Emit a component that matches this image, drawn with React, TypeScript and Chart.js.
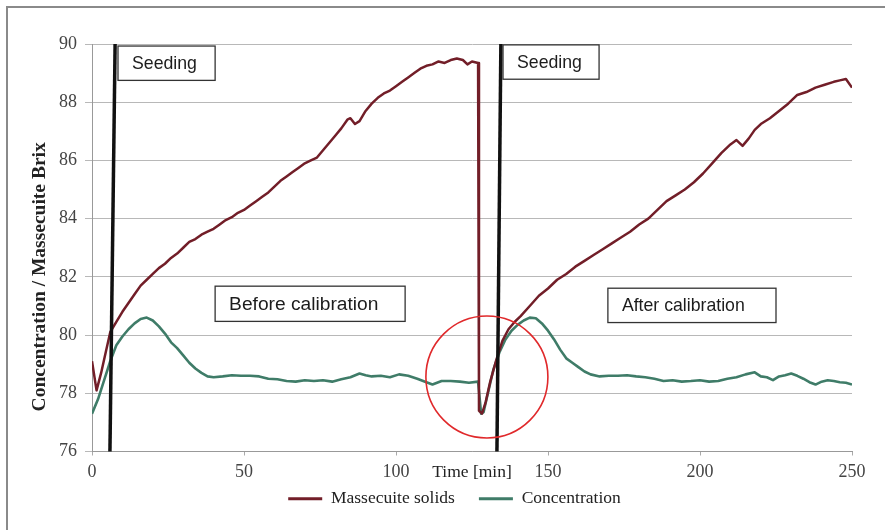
import React, { useEffect, useRef } from "react";
import { Chart, registerables } from "chart.js";

Chart.register(...registerables);

// ---------- data ----------
const seriesNames = ["Massecuite solids", "Concentration"];
const yTitle = "Concentration / Massecuite Brix";
const xTitle = "Time [min]";

const massTime = [
  0, 1.5, 3, 4.5, 6, 8, 10, 12, 14, 16, 18, 20, 22, 24, 26, 28, 30, 32, 34, 36, 38, 40, 42, 44, 46, 48, 50,
  52, 54, 56, 58, 60, 62, 64, 66, 68, 70, 72, 74, 76, 78, 80, 82, 84, 85, 86.5, 88, 90, 92, 94, 96, 98, 100,
  102, 104, 106, 108, 110, 112, 114, 116, 118, 120, 122, 123.5, 125, 127, 127.3, 128.3, 129.5, 131, 133, 135,
  137, 139, 141, 144, 147, 150, 153, 156, 159, 162, 165, 168, 171, 174, 177, 180, 183, 186, 189, 192, 195,
  198, 201, 204, 207, 210, 212, 214, 216, 218, 220, 223, 226, 229, 232, 235, 238, 241, 244, 246, 248, 250,
];
const massBrix = [
  79.1, 78.1, 78.7, 79.4, 80.1, 80.45, 80.8, 81.1, 81.4, 81.7, 81.9, 82.1, 82.3, 82.45, 82.65, 82.8, 83.0,
  83.2, 83.3, 83.45, 83.55, 83.65, 83.8, 83.95, 84.05, 84.2, 84.3, 84.45, 84.6, 84.75, 84.9, 85.1, 85.3,
  85.45, 85.6, 85.75, 85.9, 86.0, 86.1, 86.35, 86.6, 86.85, 87.1, 87.4, 87.45, 87.25, 87.35, 87.7, 87.95,
  88.15, 88.3, 88.4, 88.55, 88.7, 88.85, 89.0, 89.15, 89.25, 89.3, 89.4, 89.35, 89.45, 89.5, 89.45, 89.3,
  89.4, 89.35, 77.4, 77.3, 77.7, 78.4, 79.15, 79.8, 80.2, 80.45, 80.65, 81.0, 81.35, 81.6, 81.9, 82.1, 82.35,
  82.55, 82.75, 82.95, 83.15, 83.35, 83.55, 83.8, 84.0, 84.3, 84.6, 84.8, 85.0, 85.25, 85.55, 85.9, 86.25,
  86.55, 86.7, 86.5, 86.75, 87.05, 87.25, 87.45, 87.7, 87.95, 88.25, 88.35, 88.5, 88.6, 88.7, 88.75, 88.8,
  88.5,
];

const concTime = [
  0, 2, 4, 6, 8, 10, 12, 14, 16, 18, 20, 22, 24, 26, 28, 30, 32, 34, 36, 38, 40, 43, 46, 49, 52, 55, 58, 61,
  64, 67, 70, 73, 76, 79, 82, 85, 88, 90, 92, 95, 98, 101, 104, 107, 110, 112, 115, 118, 121, 124, 127, 128,
  128.8, 130, 132, 134, 136, 138, 140, 142, 144, 146, 148, 150, 152, 154, 156, 158, 160, 162, 164, 167, 170,
  173, 176, 179, 182, 185, 188, 191, 194, 197, 200, 203, 206, 209, 212, 215, 218, 220, 222, 224, 226, 228,
  230, 232, 234, 236, 238, 240, 242, 244, 246, 248, 250,
];
const concValue = [
  77.3, 77.8, 78.45, 79.1, 79.65, 79.95, 80.2, 80.4, 80.55, 80.6, 80.5, 80.3, 80.05, 79.75, 79.55, 79.3,
  79.05, 78.85, 78.7, 78.58, 78.55, 78.58, 78.62, 78.6, 78.6, 78.58, 78.5, 78.48, 78.42, 78.4, 78.45, 78.42,
  78.45, 78.4, 78.48, 78.55, 78.68, 78.62, 78.58, 78.6, 78.55, 78.65, 78.6, 78.5, 78.38, 78.3, 78.42, 78.42,
  78.4, 78.36, 78.4, 77.3, 77.35, 77.9, 78.8, 79.4, 79.85, 80.15, 80.35, 80.5, 80.6, 80.58, 80.4, 80.15,
  79.85, 79.5, 79.2, 79.05, 78.9, 78.75, 78.65, 78.58, 78.6, 78.6, 78.62, 78.58, 78.55, 78.5, 78.42, 78.45,
  78.4, 78.42, 78.45, 78.4, 78.42, 78.5, 78.55, 78.65, 78.72, 78.58, 78.55, 78.45, 78.58, 78.62, 78.68, 78.6,
  78.5, 78.38, 78.3, 78.4, 78.45, 78.42, 78.38, 78.36, 78.3,
];

const xRange = [0, 250];
const xStep = 50;
const yRange = [76, 90];
const yStep = 2;

// annotations (in data units)
const seedingLines = [
  { tBottom: 5.9, tTop: 7.6 },
  { tBottom: 133.2, tTop: 134.5 },
];
const labelBoxes = [
  { text: "Seeding", t0: 8.55, t1: 40.5, v0: 89.93, v1: 88.75, size: 17.7 },
  { text: "Seeding", t0: 135.2, t1: 166.8, v0: 89.97, v1: 88.79, size: 17.7 },
  { text: "Before calibration", t0: 40.5, t1: 103, v0: 81.68, v1: 80.47, size: 19.2 },
  { text: "After calibration", t0: 169.7, t1: 225, v0: 81.61, v1: 80.43, size: 17.7 },
];
const highlight = { t: 129.9, v: 78.56, radiusPx: 61 };
const yTitleCenterValue = 82;

// ---------- styles ----------
const SERIF = '"Liberation Serif", "Times New Roman", serif';
const SANS = '"Liberation Sans", Arial, sans-serif';
const RED = "#721e28";
const GREEN = "#3f7c68";
const NBSP4 = "\u00A0\u00A0\u00A0\u00A0";

const annotationPlugin = {
  id: "annotations",
  afterDatasetsDraw(chart: any) {
    const { ctx, scales } = chart;
    const x = scales.x;
    const y = scales.y;
    ctx.save();
    seedingLines.forEach((s) => {
      ctx.beginPath();
      ctx.moveTo(x.getPixelForValue(s.tBottom), y.getPixelForValue(yRange[0]));
      ctx.lineTo(x.getPixelForValue(s.tTop), y.getPixelForValue(yRange[1]));
      ctx.lineWidth = 3.5;
      ctx.strokeStyle = "#111";
      ctx.stroke();
    });
    labelBoxes.forEach((b) => {
      const x0 = x.getPixelForValue(b.t0);
      const x1 = x.getPixelForValue(b.t1);
      const y0 = y.getPixelForValue(b.v0);
      const y1 = y.getPixelForValue(b.v1);
      ctx.fillStyle = "#ffffff";
      ctx.fillRect(x0, y0, x1 - x0, y1 - y0);
      ctx.lineWidth = 1.3;
      ctx.strokeStyle = "#333";
      ctx.strokeRect(x0, y0, x1 - x0, y1 - y0);
      ctx.font = `${b.size}px ${SANS}`;
      ctx.fillStyle = "#1c1c1c";
      ctx.textBaseline = "middle";
      ctx.textAlign = "left";
      ctx.fillText(b.text, x0 + 14, (y0 + y1) / 2 + 1);
    });
    ctx.beginPath();
    ctx.arc(x.getPixelForValue(highlight.t), y.getPixelForValue(highlight.v), highlight.radiusPx, 0, Math.PI * 2);
    ctx.lineWidth = 1.6;
    ctx.strokeStyle = "#e0292b";
    ctx.stroke();
    ctx.restore();
  },
  afterDraw(chart: any) {
    const { ctx, chartArea, scales } = chart;
    ctx.save();
    ctx.translate(chartArea.left - 52, scales.y.getPixelForValue(yTitleCenterValue));
    ctx.rotate(-Math.PI / 2);
    ctx.font = `bold 19.5px ${SERIF}`;
    ctx.fillStyle = "#222";
    ctx.textAlign = "center";
    ctx.textBaseline = "middle";
    ctx.fillText(yTitle, 0, 0);
    ctx.restore();
  },
};

export default function App() {
  const ref = useRef<HTMLCanvasElement>(null);

  useEffect(() => {
    document.body.style.margin = "0";
    const massData = massTime.map((t, i) => ({ x: t, y: massBrix[i] }));
    const concData = concTime.map((t, i) => ({ x: t, y: concValue[i] }));
    const chart = new Chart(ref.current as HTMLCanvasElement, {
      type: "line",
      data: {
        datasets: [
          {
            label: seriesNames[0],
            data: massData,
            borderColor: RED,
            backgroundColor: RED,
            borderWidth: 2.5,
            pointRadius: 0,
            tension: 0,
            borderJoinStyle: "round",
          },
          {
            label: seriesNames[1],
            data: concData,
            borderColor: GREEN,
            backgroundColor: GREEN,
            borderWidth: 2.6,
            pointRadius: 0,
            tension: 0,
            borderJoinStyle: "round",
          },
        ],
      },
      options: {
        responsive: false,
        devicePixelRatio: 1,
        animation: false,
        events: [],
        layout: { padding: { left: 57, right: 33, top: 44, bottom: 12.5 } },
        plugins: {
          legend: {
            position: "bottom",
            labels: {
              boxWidth: 34,
              boxHeight: 3,
              padding: 6.5,
              color: "#222",
              font: { family: SERIF, size: 17.5 },
              generateLabels: (c: any) =>
                (Chart.defaults.plugins.legend.labels as any)
                  .generateLabels(c)
                  .map((l: any, i: number) => ({
                    ...l,
                    text: i === 0 ? l.text + NBSP4 : l.text,
                    lineWidth: 0,
                    fillStyle: l.strokeStyle,
                  })),
            },
          },
          tooltip: { enabled: false },
        },
        scales: {
          x: {
            type: "linear",
            min: xRange[0],
            max: xRange[1],
            ticks: {
              stepSize: xStep,
              color: "#444",
              font: { family: SERIF, size: 18 },
              padding: 6,
              maxRotation: 0,
            },
            grid: { drawOnChartArea: false, tickLength: 4, color: "#aaa" },
            border: { color: "#999" },
            title: {
              display: true,
              text: xTitle,
              color: "#222",
              font: { family: SERIF, size: 17.5 },
              padding: { top: 0, bottom: 0.5 },
            },
            afterFit: (s: any) => {
              s.height = 32;
            },
          },
          y: {
            min: yRange[0],
            max: yRange[1],
            ticks: {
              stepSize: yStep,
              color: "#444",
              font: { family: SERIF, size: 18 },
              padding: 8,
            },
            grid: { color: "#b8b8b8", tickLength: 7 },
            border: { color: "#999" },
            afterFit: (s: any) => {
              s.width = 35;
            },
          },
        },
      } as any,
      plugins: [annotationPlugin],
    });
    return () => chart.destroy();
  }, []);

  return (
    <div style={{ position: "relative", width: 885, height: 530, background: "#fff", overflow: "hidden" }}>
      <div
        style={{
          position: "absolute",
          left: 6,
          top: 6,
          width: 900,
          height: 540,
          borderTop: "2px solid #8a8a8a",
          borderLeft: "2px solid #8a8a8a",
        }}
      />
      <canvas ref={ref} width={885} height={530} style={{ position: "absolute", left: 0, top: 0 }} />
    </div>
  );
}
